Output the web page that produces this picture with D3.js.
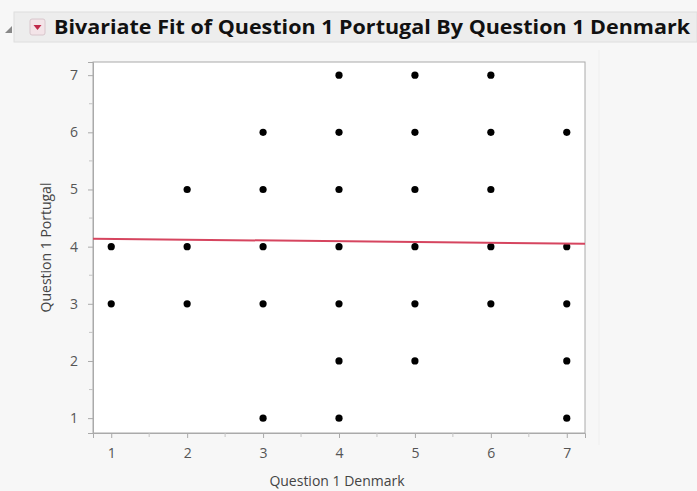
<!DOCTYPE html>
<html lang="en">
<head>
<meta charset="UTF-8">
<title>Bivariate Fit</title>
<style>
  body { margin: 0; background: #f7f7f7; }
  svg { display: block; }
  .tick text { font: 14px "Open Sans", sans-serif; fill: #555; }
  .title { font: bold 20px "Open Sans", sans-serif; fill: #111; }
  .axlabel { font: 14px "Open Sans", sans-serif; fill: #444; }
</style>
</head>
<body>
<div class="content"></div>
<script src="https://cdn.jsdelivr.net/npm/d3@7"></script>
<script>
  var width = 697, height = 491;

  // data
  var denmark  = [1,1, 2,2,2, 3,3,3,3,3, 4,4,4,4,4,4,4, 5,5,5,5,5,5, 6,6,6,6,6, 7,7,7,7,7];
  var portugal = [4,3, 5,4,3, 6,5,4,3,1, 7,6,5,4,3,2,1, 7,6,5,4,3,2, 7,6,5,4,3, 6,4,3,2,1];
  var tickValues = [1, 2, 3, 4, 5, 6, 7];
  var fitLine = [4.15, -0.014]; // intercept, slope

  var plot = { left: 93, top: 62, right: 585, bottom: 433 };

  var svg = d3.select(".content").append("svg")
    .attr("width", width)
    .attr("height", height);

  // header bar
  svg.append("rect")
    .attr("x", 14).attr("y", 12).attr("width", width - 14).attr("height", 30)
    .attr("fill", "#ededed").attr("stroke", "#dedede");
  svg.append("path")
    .attr("d", "M5,33 L12,26 L12,33 Z")
    .attr("fill", "#888");
  svg.append("rect")
    .attr("x", 30).attr("y", 19).attr("width", 15).attr("height", 16).attr("rx", 2)
    .attr("fill", "#f3e4e8").attr("stroke", "#d8c6cc");
  svg.append("path")
    .attr("d", "M33.5,25 L41.5,25 L37.5,30 Z")
    .attr("fill", "#c0284a");
  svg.append("text")
    .attr("class", "title")
    .attr("x", 54).attr("y", 34)
    .attr("textLength", 636)
    .attr("lengthAdjust", "spacingAndGlyphs")
    .text("Bivariate Fit of Question 1 Portugal By Question 1 Denmark");

  // right panel edge
  svg.append("line")
    .attr("x1", 599).attr("x2", 599).attr("y1", 50).attr("y2", 445)
    .attr("stroke", "#efefef");

  var x = d3.scaleLinear().domain([0.76, 7.24]).range([plot.left, plot.right]);
  var y = d3.scaleLinear().domain([0.74, 7.23]).range([plot.bottom, plot.top]);

  svg.append("rect")
    .attr("x", plot.left).attr("y", plot.top)
    .attr("width", plot.right - plot.left).attr("height", plot.bottom - plot.top)
    .attr("fill", "#fff").attr("stroke", "#aaa");

  var halfTicks = d3.range(1.5, 7, 1);

  var gx = svg.append("g").attr("transform", "translate(0," + plot.bottom + ")");
  gx.call(d3.axisBottom(x).tickValues(tickValues).tickSize(5).tickPadding(10).tickFormat(d3.format("d")));
  gx.append("g").selectAll("line").data(halfTicks).enter().append("line")
    .attr("x1", x).attr("x2", x).attr("y1", 0).attr("y2", 4).attr("stroke", "#c4c4c4");

  var gy = svg.append("g").attr("transform", "translate(" + plot.left + ",0)");
  gy.call(d3.axisLeft(y).tickValues(tickValues).tickSize(5).tickPadding(10).tickFormat(d3.format("d")));
  gy.append("g").selectAll("line").data(halfTicks).enter().append("line")
    .attr("y1", y).attr("y2", y).attr("x1", 0).attr("x2", -4).attr("stroke", "#c4c4c4");

  svg.selectAll(".domain").attr("stroke", "#aaa");
  svg.selectAll(".tick line").attr("stroke", "#aaa");

  // axis titles
  svg.append("text")
    .attr("class", "axlabel")
    .attr("x", (plot.left + plot.right) / 2 - 2).attr("y", 486)
    .attr("text-anchor", "middle")
    .text("Question 1 Denmark");
  svg.append("text")
    .attr("class", "axlabel")
    .attr("transform", "translate(51," + ((plot.top + plot.bottom) / 2) + ") rotate(-90)")
    .attr("text-anchor", "middle")
    .text("Question 1 Portugal");

  // points
  var pts = denmark.map(function (d, i) { return { x: d, y: portugal[i] }; });
  svg.append("g").selectAll("circle")
    .data(pts).enter().append("circle")
    .attr("cx", function (d) { return x(d.x); })
    .attr("cy", function (d) { return y(d.y); })
    .attr("r", 3.6)
    .attr("fill", "#000");

  // linear fit
  var line = d3.line()
    .x(function (d) { return x(d); })
    .y(function (d) { return y(fitLine[0] + fitLine[1] * d); });
  svg.append("path")
    .datum(x.domain())
    .attr("d", line)
    .attr("fill", "none")
    .attr("stroke", "#d6455f")
    .attr("stroke-width", 2);
</script>
</body>
</html>
